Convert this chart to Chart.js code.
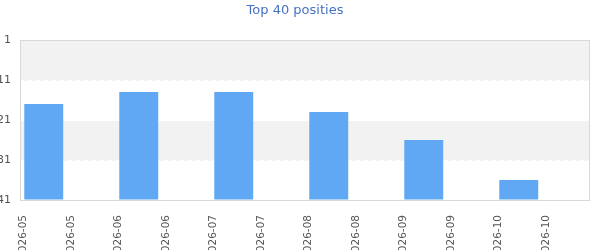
<!DOCTYPE html>
<html>
<head>
<meta charset="utf-8">
<script src="https://cdn.jsdelivr.net/npm/chart.js@4"></script>
<style>
  html, body { margin: 0; padding: 0; background: #fff; }
  #wrap { width: 600px; height: 250px; }
</style>
</head>
<body>
<div id="wrap"><canvas id="chart"></canvas></div>
<script>
const xLabels = ['2026-05', '2026-05', '2026-06', '2026-06', '2026-07', '2026-07',
                 '2026-08', '2026-08', '2026-09', '2026-09', '2026-10', '2026-10'];
const positions = [17, null, 14, null, 14, null, 19, null, 26, null, 36, null];
const yTicks = [1, 11, 21, 31, 41];

// grey bands on every other tick interval + frame around the plot
const bandsPlugin = {
    id: 'bands',
    beforeDraw(chart) {
        const { ctx, chartArea: a, scales: { y } } = chart;
        ctx.save();
        ctx.fillStyle = '#f2f2f2';
        for (let i = 0; i < yTicks.length - 1; i += 2) {
            const y1 = y.getPixelForValue(yTicks[i]);
            const y2 = y.getPixelForValue(yTicks[i + 1]);
            // shift one row down so the dashed line sits on the grey edge
            ctx.fillRect(a.left, Math.min(y1, y2) + 1, a.right - a.left, Math.abs(y2 - y1));
        }
        ctx.restore();
    },
    afterDraw(chart) {
        const { ctx, chartArea: a } = chart;
        ctx.save();
        ctx.strokeStyle = '#d9d9d9';
        ctx.lineWidth = 1;
        ctx.strokeRect(a.left + 0.5, a.top + 0.5, a.right - a.left - 1, a.bottom - a.top);
        ctx.restore();
    }
};

new Chart(document.getElementById('chart').getContext('2d'), {
    type: 'bar',
    data: {
        labels: xLabels,
        datasets: [{
            label: 'Positie',
            data: positions,
            base: yTicks[yTicks.length - 1],
            backgroundColor: '#60a8f4',
            barPercentage: 0.82,
            categoryPercentage: 1
        }]
    },
    options: {
        responsive: true,
        maintainAspectRatio: false,
        animation: false,
        layout: { padding: { left: 0, right: 10, top: 0, bottom: 0 } },
        plugins: {
            legend: { display: false },
            tooltip: { enabled: false },
            title: {
                display: true,
                text: 'Top 40 posities',
                color: '#4472c4',
                font: { family: 'DejaVu Sans', size: 13, weight: 'normal' },
                padding: { top: 3, bottom: 21.4 }
            }
        },
        scales: {
            x: {
                offset: true,
                grid: { display: false },
                border: { display: false },
                afterFit: (scale) => { scale.height = 50; },
                ticks: {
                    autoSkip: false,
                    minRotation: 90,
                    maxRotation: 90,
                    padding: 7,
                    labelOffset: -20,
                    color: '#555',
                    font: { family: 'DejaVu Sans', size: 10.5 }
                }
            },
            y: {
                reverse: true,
                min: yTicks[0],
                max: yTicks[yTicks.length - 1],
                afterFit: (scale) => { scale.width = 20; },
                afterBuildTicks: (scale) => { scale.ticks = yTicks.map(v => ({ value: v })); },
                grid: {
                    color: '#ffffff',
                    lineWidth: 1,
                    drawTicks: false
                },
                border: { display: false, dash: [4, 4] },
                ticks: {
                    padding: 9,
                    color: '#555',
                    font: { family: 'DejaVu Sans', size: 11 }
                }
            }
        }
    },
    plugins: [bandsPlugin]
});
</script>
</body>
</html>
